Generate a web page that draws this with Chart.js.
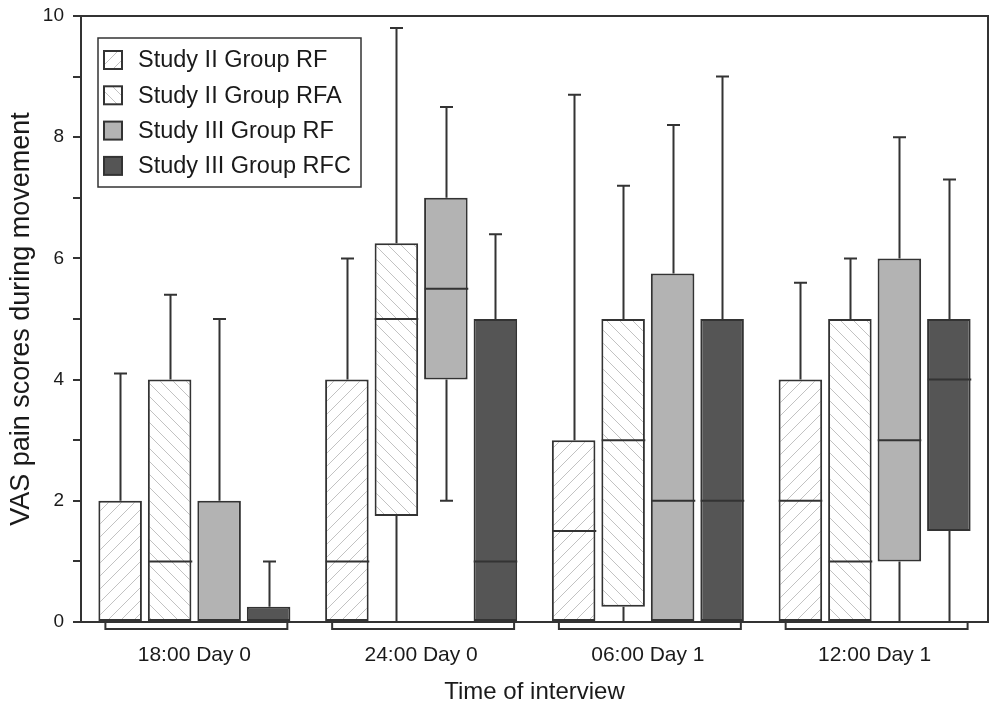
<!DOCTYPE html>
<html>
<head>
<meta charset="utf-8">
<title>VAS pain scores during movement</title>
<script src="https://cdn.jsdelivr.net/npm/chart.js@4.4.1/dist/chart.umd.min.js"></script>
<style>
  html, body { margin: 0; padding: 0; background: #fff; }
  #wrap { width: 989px; height: 714px; }
</style>
</head>
<body>
<div id="wrap"><canvas id="chart"></canvas></div>
<script>
var timepoints = ['18:00 Day 0', '24:00 Day 0', '06:00 Day 1', '12:00 Day 1'];
var groupNames = ['Study II Group RF', 'Study II Group RFA', 'Study III Group RF', 'Study III Group RFC'];
var yLabels = [0, 2, 4, 6, 8, 10];

// box statistics, one value per time point
var rf2Low = [0, 0, 0, 0];
var rf2Q1 = [0, 0, 0, 0];
var rf2Median = [0, 1, 1.5, 2];
var rf2Q3 = [2, 4, 3, 4];
var rf2High = [4.1, 6, 8.7, 5.6];

var rfa2Low = [0, 0, 0, 0];
var rfa2Q1 = [0, 1.75, 0.25, 0];
var rfa2Median = [1, 5, 3, 1];
var rfa2Q3 = [4, 6.25, 5, 5];
var rfa2High = [5.4, 9.8, 7.2, 6];

var rf3Low = [0, 2, 0, 0];
var rf3Q1 = [0, 4, 0, 1];
var rf3Median = [0, 5.5, 2, 3];
var rf3Q3 = [2, 7, 5.75, 6];
var rf3High = [5, 8.5, 8.2, 8];

var rfc3Low = [0, 0, 0, 0];
var rfc3Q1 = [0, 0, 0, 1.5];
var rfc3Median = [0, 1, 2, 4];
var rfc3Q3 = [0.25, 5, 5, 5];
var rfc3High = [1, 6.4, 9, 7.3];

var FONT = "'Liberation Sans', Arial, sans-serif";
var INK = '#333333';
var CAT_PCT = 0.873;

var canvas = document.getElementById('chart');

// white tile with a single diagonal stroke, dir 1 = "/", -1 = "\"
function hatch(dir) {
    var s = 13;
    var tile = document.createElement('canvas');
    tile.width = s;
    tile.height = s;
    var g = tile.getContext('2d');
    g.fillStyle = '#ffffff';
    g.fillRect(0, 0, s, s);
    g.strokeStyle = '#c2c2c2';
    g.lineWidth = 1;
    g.beginPath();
    for (var k = -1; k <= 1; k++) {
        if (dir > 0) {
            g.moveTo(k * s, s);
            g.lineTo(k * s + s, 0);
        } else {
            g.moveTo(k * s, 0);
            g.lineTo(k * s + s, s);
        }
    }
    g.stroke();
    return canvas.getContext('2d').createPattern(tile, 'repeat');
}

function boxes(q1, q3) {
    return q1.map(function(v, i) { return [v, q3[i]]; });
}

function makeSet(label, fill, low, q1, med, q3, high) {
    return {
        label: label,
        data: boxes(q1, q3),
        stats: { low: low, q1: q1, median: med, q3: q3, high: high },
        backgroundColor: fill,
        borderColor: INK,
        borderWidth: 2,
        borderSkipped: false,
        categoryPercentage: CAT_PCT,
        barPercentage: 0.88
    };
}

// whiskers, caps and median lines drawn over the floating bars
var boxExtras = {
    id: 'boxExtras',
    afterDatasetsDraw: function(chart) {
        var ctx = chart.ctx;
        var y = chart.scales.y;
        ctx.save();
        ctx.strokeStyle = INK;
        ctx.lineWidth = 2;
        chart.data.datasets.forEach(function(ds, i) {
            var st = ds.stats;
            chart.getDatasetMeta(i).data.forEach(function(bar, j) {
                var x = Math.round(bar.x) + 0.5;
                var half = bar.width / 2;
                var cap = 6.5;
                ctx.beginPath();
                // median
                ctx.moveTo(x - half, y.getPixelForValue(st.median[j]));
                ctx.lineTo(x + half, y.getPixelForValue(st.median[j]));
                // upper whisker
                if (st.high[j] > st.q3[j]) {
                    ctx.moveTo(x, y.getPixelForValue(st.q3[j]));
                    ctx.lineTo(x, y.getPixelForValue(st.high[j]));
                    ctx.moveTo(x - cap, y.getPixelForValue(st.high[j]));
                    ctx.lineTo(x + cap, y.getPixelForValue(st.high[j]));
                }
                // lower whisker
                if (st.low[j] < st.q1[j]) {
                    ctx.moveTo(x, y.getPixelForValue(st.q1[j]));
                    ctx.lineTo(x, y.getPixelForValue(st.low[j]));
                    ctx.moveTo(x - cap, y.getPixelForValue(st.low[j]));
                    ctx.lineTo(x + cap, y.getPixelForValue(st.low[j]));
                }
                ctx.stroke();
            });
        });
        ctx.restore();
    },
    afterDraw: function(chart) {
        var ctx = chart.ctx;
        var area = chart.chartArea;
        var xs = chart.scales.x;
        ctx.save();
        ctx.strokeStyle = INK;
        ctx.lineWidth = 2;

        // top and right frame
        ctx.beginPath();
        ctx.moveTo(area.left, area.top);
        ctx.lineTo(area.right, area.top);
        ctx.lineTo(area.right, area.bottom);
        ctx.stroke();

        // brackets under each time point
        var catW = xs.width / timepoints.length;
        var half = catW * CAT_PCT / 2 - 8;
        var yb = area.bottom + 7;
        timepoints.forEach(function(t, i) {
            var cx = xs.getPixelForValue(i) + 2;
            ctx.beginPath();
            ctx.moveTo(cx - half, area.bottom + 1);
            ctx.lineTo(cx - half, yb);
            ctx.lineTo(cx + half, yb);
            ctx.lineTo(cx + half, area.bottom + 1);
            ctx.stroke();
        });

        // legend box
        var lx = area.left + 17;
        var ly = area.top + 22;
        var lw = 263;
        var lh = 149;
        ctx.lineWidth = 1.5;
        ctx.fillStyle = '#ffffff';
        ctx.fillRect(lx, ly, lw, lh);
        ctx.strokeRect(lx, ly, lw, lh);
        ctx.font = '23.5px ' + FONT;
        ctx.textBaseline = 'middle';
        chart.data.datasets.forEach(function(ds, i) {
            var ry = ly + 22 + i * 35.3;
            ctx.fillStyle = ds.backgroundColor;
            ctx.fillRect(lx + 6, ry - 9, 18, 18);
            ctx.lineWidth = 2;
            ctx.strokeRect(lx + 6, ry - 9, 18, 18);
            ctx.fillStyle = '#1a1a1a';
            ctx.fillText(ds.label, lx + 40, ry + 1);
        });
        ctx.restore();
    }
};

new Chart(canvas, {
    type: 'bar',
    data: {
        labels: timepoints,
        datasets: [
            makeSet(groupNames[0], hatch(1), rf2Low, rf2Q1, rf2Median, rf2Q3, rf2High),
            makeSet(groupNames[1], hatch(-1), rfa2Low, rfa2Q1, rfa2Median, rfa2Q3, rfa2High),
            makeSet(groupNames[2], '#b3b3b3', rf3Low, rf3Q1, rf3Median, rf3Q3, rf3High),
            makeSet(groupNames[3], '#555555', rfc3Low, rfc3Q1, rfc3Median, rfc3Q3, rfc3High)
        ]
    },
    options: {
        responsive: true,
        maintainAspectRatio: false,
        animation: false,
        layout: { padding: { top: 16, right: 1, left: 0, bottom: 0 } },
        plugins: {
            legend: { display: false },
            tooltip: { enabled: false }
        },
        scales: {
            x: {
                grid: { display: false },
                border: { display: true, color: INK, width: 2 },
                ticks: {
                    color: '#1a1a1a',
                    font: { family: FONT, size: 21 },
                    padding: 13,
                    maxRotation: 0
                },
                title: {
                    display: true,
                    text: 'Time of interview',
                    color: '#1a1a1a',
                    font: { family: FONT, size: 24 },
                    padding: { top: 0, bottom: 7 }
                },
                afterFit: function(scale) {
                    scale.height = 92;
                    scale.paddingLeft = 0;
                    scale.paddingRight = 0;
                }
            },
            y: {
                min: 0,
                max: 10,
                grid: {
                    drawOnChartArea: false,
                    drawTicks: true,
                    tickLength: 8,
                    color: INK,
                    lineWidth: 2
                },
                border: { display: true, color: INK, width: 2 },
                ticks: {
                    stepSize: 1,
                    color: '#1a1a1a',
                    font: { family: FONT, size: 19 },
                    padding: 9,
                    callback: function(v) { return yLabels.indexOf(v) >= 0 ? v : ''; }
                },
                title: {
                    display: true,
                    text: 'VAS pain scores during movement',
                    color: '#1a1a1a',
                    font: { family: FONT, size: 27 },
                    padding: { top: 5, bottom: 0 }
                },
                afterFit: function(scale) {
                    scale.width = 81;
                    scale.paddingTop = 0;
                    scale.paddingBottom = 0;
                }
            }
        }
    },
    plugins: [boxExtras]
});
</script>
</body>
</html>
